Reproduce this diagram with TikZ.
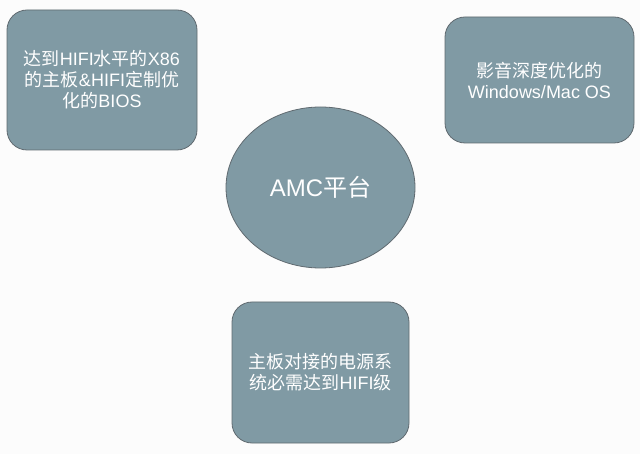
\documentclass[tikz,border=0pt]{standalone}
\usepackage{fontspec}
\setmainfont{Liberation Sans}
\newfontfamily\cjkfont{Noto Sans CJK SC}
\newcommand\zhs[1]{{\cjkfont #1}}
\usetikzlibrary{shapes.geometric}
\definecolor{boxfill}{RGB}{128,154,164}
\definecolor{boxline}{RGB}{96,106,112}
\definecolor{bgcol}{RGB}{252,252,252}
\begin{document}
\begin{tikzpicture}[x=1pt,y=-1pt]
\tikzset{
  card/.style={draw=boxline, fill=boxfill, rounded corners=20pt, line width=0.8pt,
    text=white, align=center, inner sep=0pt, font=\fontsize{18}{21}\selectfont},
  hub/.style={ellipse, draw=boxline, fill=boxfill, line width=0.8pt,
    text=white, inner sep=0pt, font=\fontsize{24}{28}\selectfont}
}
\fill[bgcol] (0,0) rectangle (640,454);
\useasboundingbox (0,0) rectangle (640,454);
\node[card, minimum width=190pt, minimum height=140pt] (a) at (102,80)
  {\zhs{达到}HIFI\zhs{水平的}X86\\\zhs{的主板}\&HIFI\zhs{定制优}\\\zhs{化的}BIOS};
\node[card, minimum width=189pt, minimum height=126pt] (b) at (539.5,80)
  {\zhs{影音深度优化的}\\Windows/Mac OS};
\node[card, minimum width=177pt, minimum height=141pt] (c) at (320.5,372.5)
  {\zhs{主板对接的电源系}\\\zhs{统必需达到}HIFI\zhs{级}};
\node[hub, minimum width=189pt, minimum height=161pt] (m) at (320.5,187.5)
  {AMC\zhs{平台}};
\end{tikzpicture}
\end{document}
